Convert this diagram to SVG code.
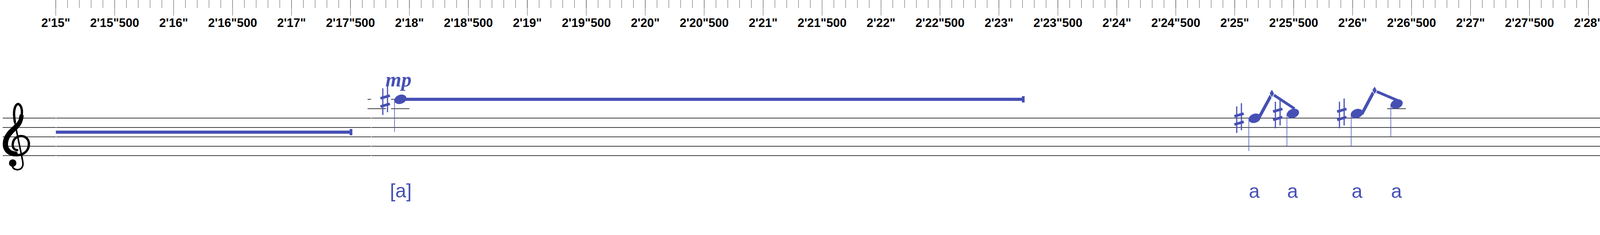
<svg xmlns="http://www.w3.org/2000/svg" xmlns:xlink="http://www.w3.org/1999/xlink" width="4717" height="601" viewBox="0 0 4717 601">
<defs>
<style>
.lbl{font-family:"Liberation Sans",Arial,sans-serif;font-weight:bold;font-size:31px;fill:#000;text-anchor:middle}
.staff{stroke:#000;stroke-width:1.3;fill:none}
.ledger{stroke:#000;stroke-width:1.3;fill:none}
.stem{stroke:#4650b4;stroke-width:1.5;fill:none}
.syl{font-family:"Liberation Sans",Arial,sans-serif;font-size:50px;fill:#4650b4;text-anchor:middle}
.dyn{font-family:"Liberation Serif","Times New Roman",serif;font-style:italic;font-weight:bold;fill:#4650b4}
.gl{stroke:#4650b4;fill:none;stroke-linecap:butt}
.bar{fill:#4650b4}
</style>
<g id="sharp" stroke="#4650b4" fill="none">
<path d="M-6,-30V38M6,-38V31" stroke-width="3"/>
<path d="M-12,-4.5L12,-11.5M-12,16.5L12,9.5" stroke-width="7"/>
</g>
<ellipse id="head" rx="16" ry="11.5" transform="rotate(-20)" fill="#4650b4"/>
<polygon id="diamond" points="0,-11 6.5,0.5 0,11 -6.5,-0.5" fill="#4650b4" stroke="#fff" stroke-width="1.5"/>
</defs>
<rect width="4717" height="601" fill="#fff"/>
<g id="ruler">
<line x1="142.2" y1="10" x2="4671" y2="10" stroke="#555" stroke-width="20" stroke-dasharray="1 29.182"/>
<line x1="142.2" y1="20" x2="4671" y2="20" stroke="#555" stroke-width="40" stroke-dasharray="1 149.91"/>
<g class="lbl">
<text x="142.7" y="69">2'15"</text>
<text x="293.6" y="69">2'15"500</text>
<text x="444.5" y="69">2'16"</text>
<text x="595.4" y="69">2'16"500</text>
<text x="746.3" y="69">2'17"</text>
<text x="897.3" y="69">2'17"500</text>
<text x="1048.2" y="69">2'18"</text>
<text x="1199.1" y="69">2'18"500</text>
<text x="1350" y="69">2'19"</text>
<text x="1500.9" y="69">2'19"500</text>
<text x="1651.8" y="69">2'20"</text>
<text x="1802.7" y="69">2'20"500</text>
<text x="1953.6" y="69">2'21"</text>
<text x="2104.5" y="69">2'21"500</text>
<text x="2255.4" y="69">2'22"</text>
<text x="2406.4" y="69">2'22"500</text>
<text x="2557.3" y="69">2'23"</text>
<text x="2708.2" y="69">2'23"500</text>
<text x="2859.1" y="69">2'24"</text>
<text x="3010" y="69">2'24"500</text>
<text x="3160.9" y="69">2'25"</text>
<text x="3311.8" y="69">2'25"500</text>
<text x="3462.7" y="69">2'26"</text>
<text x="3613.6" y="69">2'26"500</text>
<text x="3764.5" y="69">2'27"</text>
<text x="3915.5" y="69">2'27"500</text>
<text x="4066.4" y="69">2'28"</text>
<text x="4217.3" y="69">2'28"500</text>
<text x="4368.2" y="69">2'29"</text>
<text x="4519.1" y="69">2'29"500</text>
<text x="4670" y="69">2'30"</text>
</g>
</g>
<g id="staff">
<path class="staff" d="M7,302H143M144,302H950M951,302H4710M7,326H143M144,326H950M951,326H4710M7,350H143M144,350H950M951,350H4710M7,374H143M144,374H950M951,374H4710M7,398H143M144,398H950M951,398H4710"/>
</g>
<g id="clef" fill="none" stroke="#000" stroke-linecap="round">
<path d="M44,384 C36,384 31,376 33,366 C35,354 44,348 54,348 C67,348 74,358 74,368 C74,385 62,396 44,397 C25,398 10,388 10,368 C10,346 27,332 41,320 C52,309 57,296 56,283 C55,272 50,266 46,266 C40,267 36,278 36,290 C36,298 37,305 38,312" stroke-width="6"/>
<path d="M40,393 C25,392 15,383 15,368 C15,350 29,337 42,325 C50,317 54,307 55,297" stroke-width="11"/>
<path d="M38,312 C44,345 53,385 58,412 C61,426 55,434 44,434 C37,434 33,430 31,424" stroke-width="4"/>
<circle cx="32.5" cy="417" r="9.5" fill="#000" stroke="none"/>
</g>
<g id="connectors">
<rect class="bar" x="143" y="334" width="752" height="8"/>
<rect class="bar" x="895" y="330" width="7" height="16"/>
<rect class="bar" x="1025" y="250" width="1591" height="8"/>
<rect class="bar" x="2616" y="246" width="7" height="16"/>
<line class="gl" x1="3224" y1="299" x2="3254" y2="244" stroke-width="8"/>
<line class="gl" x1="3261" y1="243" x2="3314" y2="278" stroke-width="7"/>
<use xlink:href="#diamond" x="3256" y="239"/>
<line class="gl" x1="3486" y1="292" x2="3516" y2="236" stroke-width="8"/>
<line class="gl" x1="3524" y1="234" x2="3578" y2="257" stroke-width="7"/>
<use xlink:href="#diamond" x="3519" y="231"/>
<line class="gl" x1="4266" y1="314.5" x2="4710" y2="275.5" stroke-width="7"/>
<line x1="4292" y1="493" x2="4710" y2="493" stroke="#000" stroke-width="4" stroke-dasharray="14.3 5"/>
</g>
<g id="note-mp">
<path class="ledger" d="M941,278H988M1001,278H1048M941,254H950M1001,254H1011"/>
<use xlink:href="#sharp" x="986" y="256"/>
<line class="stem" x1="1010" y1="254" x2="1010" y2="337"/>
<use xlink:href="#head" x="1025" y="254"/>
<text class="dyn" x="987" y="221" font-size="52">mp</text>
<text class="syl" x="1026" y="505">[a]</text>
</g>
<g id="note-a1">
<use xlink:href="#sharp" x="3172" y="302"/>
<line class="stem" x1="3197" y1="302" x2="3197" y2="386"/>
<use xlink:href="#head" x="3212" y="302.5"/>
<text class="syl" x="3211" y="506">a</text>
</g>
<g id="note-a2">
<use xlink:href="#sharp" x="3271" y="290"/>
<line class="stem" x1="3294.5" y1="290" x2="3294.5" y2="374"/>
<use xlink:href="#head" x="3310" y="290"/>
<text class="syl" x="3309" y="506">a</text>
</g>
<g id="note-b1">
<use xlink:href="#sharp" x="3435" y="290"/>
<line class="stem" x1="3459" y1="290" x2="3459" y2="374"/>
<use xlink:href="#head" x="3473.5" y="290.5"/>
<text class="syl" x="3474" y="506">a</text>
</g>
<g id="note-b2">
<path class="ledger" d="M3551,278H3599"/>
<line class="stem" x1="3560.5" y1="266" x2="3560.5" y2="350"/>
<use xlink:href="#head" x="3575.5" y="266"/>
<text class="syl" x="3575" y="506">a</text>
</g>
<g id="note-c1">
<line class="stem" x1="4251" y1="314" x2="4251" y2="398"/>
<use xlink:href="#head" x="4266" y="314.5"/>
<text class="dyn" x="4263" y="225" font-size="70" text-anchor="middle">f</text>
<text class="syl" x="4266" y="506">a</text>
</g>
<g id="note-c2">
<use xlink:href="#sharp" x="4427" y="302"/>
<line class="stem" x1="4451" y1="302" x2="4451" y2="386"/>
<use xlink:href="#head" x="4466" y="302.3"/>
</g>
<g id="note-c3">
<use xlink:href="#sharp" x="4602" y="290"/>
<line class="stem" x1="4625.5" y1="290" x2="4625.5" y2="374"/>
<use xlink:href="#head" x="4641" y="290.5"/>
</g>
</svg>
